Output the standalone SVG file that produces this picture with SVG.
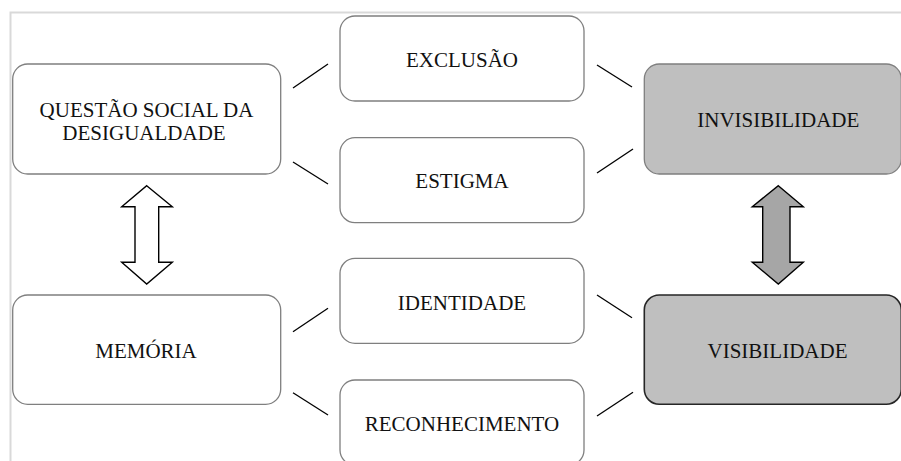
<svg xmlns="http://www.w3.org/2000/svg" width="901" height="461" viewBox="0 0 901 461">
<style>
text{font-family:"Liberation Serif","Times New Roman",serif;font-size:21px;fill:#111;text-anchor:middle}
.box{fill:#fff;stroke:#7f7f7f;stroke-width:1.3}
.gray{fill:#bfbfbf;stroke:#7f7f7f;stroke-width:1.3}
.dark{fill:#bfbfbf;stroke:#262626;stroke-width:1.6}
.ln{stroke:#000;stroke-width:1.3;fill:none}
.frame{stroke:#d9d9d9;stroke-width:2;fill:none}
</style>
<rect width="901" height="461" fill="#fff"/>
<path class="frame" d="M10.5 461 V12.5 H901"/>
<g id="questao"><rect class="box" x="12.7" y="64" width="268" height="110" rx="15"/><text x="146.5" y="116.7">QUESTÃO  SOCIAL DA</text><text x="144" y="140">DESIGUALDADE</text></g>
<g id="exclusao"><rect class="box" x="340" y="16" width="244" height="85" rx="15"/><text x="462" y="66.7">EXCLUSÃO</text></g>
<g id="estigma"><rect class="box" x="340" y="137.7" width="244" height="85" rx="15"/><text x="462" y="187.7">ESTIGMA</text></g>
<g id="invisibilidade"><rect class="gray" x="644.3" y="64" width="257" height="110" rx="15"/><text x="778.3" y="127.3">INVISIBILIDADE</text></g>
<g id="memoria"><rect class="box" x="12.7" y="295" width="268" height="109.3" rx="15"/><text x="146" y="358.3">MEMÓRIA</text></g>
<g id="identidade"><rect class="box" x="340" y="258.3" width="244" height="85" rx="15"/><text x="462" y="310">IDENTIDADE</text></g>
<g id="reconhecimento"><rect class="box" x="340" y="380" width="244" height="85" rx="15"/><text x="462" y="430.7">RECONHECIMENTO</text></g>
<g id="visibilidade"><rect class="dark" x="644.3" y="295" width="257" height="109.3" rx="15"/><text x="777.5" y="358.3">VISIBILIDADE</text></g>
<g id="connectors">
<line class="ln" x1="293" y1="88" x2="328" y2="64"/>
<line class="ln" x1="293" y1="162" x2="328" y2="184"/>
<line class="ln" x1="597" y1="65" x2="632" y2="87"/>
<line class="ln" x1="597" y1="173" x2="633" y2="149"/>
<line class="ln" x1="293" y1="331.7" x2="328" y2="308.3"/>
<line class="ln" x1="293" y1="392.7" x2="328" y2="415"/>
<line class="ln" x1="597" y1="295" x2="632" y2="317.7"/>
<line class="ln" x1="597" y1="416" x2="633" y2="392.3"/>
<path d="M146.7 185.7 L172.3 206.7 L158.7 206.7 L158.7 262.3 L172.3 262.3 L146.7 284 L121.7 262.3 L135 262.3 L135 206.7 L121.7 206.7 Z" fill="#fff" stroke="#000" stroke-width="1.4" stroke-linejoin="miter"/>
<path d="M778.3 185.7 L803.3 206.7 L790 206.7 L790 262.3 L803.3 262.3 L778.3 284 L752.3 262.3 L762.7 262.3 L762.7 206.7 L752.3 206.7 Z" fill="#a6a6a6" stroke="#000" stroke-width="1.4" stroke-linejoin="miter"/>
</g>
</svg>
